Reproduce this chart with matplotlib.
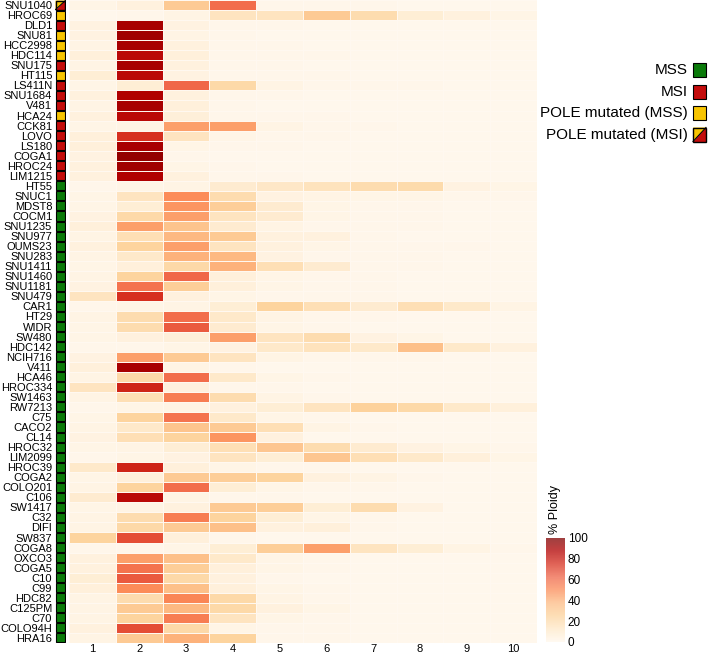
import numpy as np
import matplotlib
matplotlib.use("Agg")
from matplotlib import pyplot as plt
from matplotlib.patches import Rectangle, Polygon

plt.rcParams['font.family'] = ['Liberation Sans', 'DejaVu Sans']

cell_lines = [
    'SNU1040', 'HROC69', 'DLD1', 'SNU81', 'HCC2998', 'HDC114', 'SNU175',
    'HT115', 'LS411N', 'SNU1684', 'V481', 'HCA24', 'CCK81', 'LOVO', 'LS180',
    'COGA1', 'HROC24', 'LIM1215', 'HT55', 'SNUC1', 'MDST8', 'COCM1',
    'SNU1235', 'SNU977', 'OUMS23', 'SNU283', 'SNU1411', 'SNU1460',
    'SNU1181', 'SNU479', 'CAR1', 'HT29', 'WIDR', 'SW480', 'HDC142',
    'NCIH716', 'V411', 'HCA46', 'HROC334', 'SW1463', 'RW7213', 'C75',
    'CACO2', 'CL14', 'HROC32', 'LIM2099', 'HROC39', 'COGA2', 'COLO201',
    'C106', 'SW1417', 'C32', 'DIFI', 'SW837', 'COGA8', 'OXCO3', 'COGA5',
    'C10', 'C99', 'HDC82', 'C125PM', 'C70', 'COLO94H', 'HRA16',
]

# MSS, MSI, POLE_MSS, POLE_MSI
status = (['POLE_MSI', 'POLE_MSS', 'MSI', 'POLE_MSS', 'POLE_MSS', 'POLE_MSS',
           'MSI', 'POLE_MSS', 'MSI', 'MSI', 'MSI', 'POLE_MSS', 'MSI', 'MSI',
           'MSI', 'MSI', 'MSI', 'MSI'] + ['MSS'] * 46)

ploidy = [1, 2, 3, 4, 5, 6, 7, 8, 9, 10]

# % of cells per ploidy level (columns 1..10)
pct_ploidy = [
    [2, 5, 30, 60, 1, 1, 1, 0, 0, 0],
    [0, 1, 3, 15, 15, 30, 20, 8, 5, 2],
    [4, 90, 4, 1, 1, 0, 0, 0, 0, 0],
    [4, 92, 3, 1, 0, 0, 0, 0, 0, 0],
    [3, 90, 5, 1, 1, 0, 0, 0, 0, 0],
    [6, 85, 6, 1, 1, 1, 0, 0, 0, 0],
    [3, 90, 5, 1, 1, 0, 0, 0, 0, 0],
    [8, 85, 4, 1, 1, 1, 0, 0, 0, 0],
    [2, 8, 62, 22, 3, 1, 1, 1, 0, 0],
    [5, 88, 5, 1, 1, 0, 0, 0, 0, 0],
    [3, 90, 6, 1, 0, 0, 0, 0, 0, 0],
    [5, 85, 7, 1, 1, 1, 0, 0, 0, 0],
    [2, 3, 45, 45, 3, 1, 1, 0, 0, 0],
    [6, 75, 15, 2, 1, 1, 0, 0, 0, 0],
    [6, 90, 2, 1, 1, 0, 0, 0, 0, 0],
    [4, 95, 1, 0, 0, 0, 0, 0, 0, 0],
    [5, 92, 2, 1, 0, 0, 0, 0, 0, 0],
    [5, 88, 5, 1, 1, 0, 0, 0, 0, 0],
    [1, 2, 3, 10, 13, 16, 20, 21, 4, 2],
    [2, 15, 50, 20, 4, 3, 2, 2, 1, 1],
    [2, 8, 48, 28, 10, 2, 1, 1, 0, 0],
    [4, 22, 45, 15, 10, 2, 1, 1, 0, 0],
    [6, 45, 33, 10, 3, 1, 1, 1, 0, 0],
    [3, 18, 38, 30, 5, 5, 1, 0, 0, 0],
    [5, 25, 45, 15, 5, 2, 1, 1, 1, 0],
    [3, 12, 40, 38, 4, 1, 1, 1, 0, 0],
    [2, 6, 22, 40, 18, 10, 1, 1, 0, 0],
    [3, 25, 62, 6, 2, 1, 1, 0, 0, 0],
    [4, 58, 28, 6, 2, 1, 1, 0, 0, 0],
    [15, 75, 5, 2, 1, 1, 1, 0, 0, 0],
    [1, 2, 3, 8, 25, 18, 10, 18, 12, 3],
    [3, 20, 60, 12, 3, 1, 1, 0, 0, 0],
    [2, 20, 65, 10, 2, 1, 0, 0, 0, 0],
    [2, 5, 7, 45, 15, 20, 4, 2, 0, 0],
    [1, 1, 2, 4, 12, 16, 12, 35, 12, 5],
    [4, 45, 30, 15, 3, 1, 1, 1, 0, 0],
    [6, 90, 3, 1, 0, 0, 0, 0, 0, 0],
    [3, 22, 60, 12, 2, 1, 0, 0, 0, 0],
    [15, 78, 5, 1, 1, 0, 0, 0, 0, 0],
    [3, 18, 55, 20, 3, 1, 0, 0, 0, 0],
    [1, 2, 3, 5, 8, 15, 26, 22, 12, 6],
    [2, 25, 58, 12, 2, 1, 0, 0, 0, 0],
    [3, 12, 33, 30, 18, 3, 1, 0, 0, 0],
    [4, 18, 25, 48, 5, 0, 0, 0, 0, 0],
    [2, 3, 8, 18, 32, 20, 10, 4, 2, 1],
    [1, 2, 4, 15, 8, 32, 18, 12, 6, 2],
    [12, 78, 6, 2, 1, 1, 0, 0, 0, 0],
    [2, 6, 30, 28, 25, 5, 3, 1, 0, 0],
    [3, 25, 60, 8, 2, 1, 1, 0, 0, 0],
    [10, 85, 3, 1, 1, 0, 0, 0, 0, 0],
    [2, 3, 5, 30, 28, 8, 20, 4, 0, 0],
    [3, 20, 55, 25, 8, 2, 1, 0, 0, 0],
    [3, 22, 30, 35, 5, 6, 1, 0, 0, 0],
    [25, 68, 6, 1, 0, 0, 0, 0, 0, 0],
    [1, 1, 2, 8, 28, 45, 15, 8, 3, 1],
    [5, 45, 35, 12, 2, 1, 0, 0, 0, 0],
    [5, 58, 28, 6, 2, 1, 0, 0, 0, 0],
    [8, 65, 22, 5, 1, 0, 0, 0, 0, 0],
    [6, 50, 35, 6, 2, 1, 0, 0, 0, 0],
    [3, 20, 52, 22, 3, 1, 0, 0, 0, 0],
    [3, 30, 38, 22, 5, 2, 0, 0, 0, 0],
    [3, 25, 55, 15, 2, 1, 0, 0, 0, 0],
    [5, 68, 22, 2, 1, 1, 0, 0, 0, 0],
    [3, 30, 40, 25, 1, 1, 0, 0, 0, 0],
]

status_colors = {'MSS': '#0a7a0a', 'MSI': '#c40c0c', 'POLE_MSS': '#f7c400'}
legend_labels = ['MSS', 'MSI', 'POLE mutated (MSS)', 'POLE mutated (MSI)']
legend_keys = ['MSS', 'MSI', 'POLE_MSS', 'POLE_MSI']


def draw_status_box(ax, x, y, w, h, key):
    """Square box; POLE (MSI) is split on the diagonal (y axis inverted)."""
    if key == 'POLE_MSI':
        ax.add_patch(Polygon([(x, y), (x + w, y), (x, y + h)],
                             closed=True, facecolor=status_colors['POLE_MSS'],
                             edgecolor='none'))
        ax.add_patch(Polygon([(x + w, y), (x + w, y + h), (x, y + h)],
                             closed=True, facecolor=status_colors['MSI'],
                             edgecolor='none'))
        ax.plot([x, x + w], [y + h, y], color='black', lw=0.8)
        ax.add_patch(Rectangle((x, y), w, h, facecolor='none',
                               edgecolor='black', lw=1.0))
    else:
        ax.add_patch(Rectangle((x, y), w, h, facecolor=status_colors[key],
                               edgecolor='black', lw=0.8))


def main():
    data = np.array(pct_ploidy, dtype=float)
    n = len(cell_lines)

    fig = plt.figure(figsize=(7.09, 6.56), dpi=100)
    bottom = 13 / 656
    height = 643 / 656

    # heatmap
    ax = fig.add_axes([69 / 709, bottom, 468 / 709, height])
    mesh = ax.pcolormesh(np.arange(len(ploidy) + 1), np.arange(n + 1), data,
                         cmap='OrRd', vmin=0, vmax=100,
                         edgecolors='#fff8f0', linewidth=0.4)
    ax.set_xlim(0, len(ploidy))
    ax.set_ylim(n, 0)
    ax.set_xticks(np.arange(len(ploidy)) + 0.5)
    ax.set_xticklabels([str(p) for p in ploidy], fontsize=8)
    ax.set_yticks([])
    ax.tick_params(axis='x', length=0, pad=0.5)
    for s in ax.spines.values():
        s.set_visible(False)

    # status column with cell line names
    sax = fig.add_axes([55 / 709, bottom, 11 / 709, height])
    for i, key in enumerate(status):
        draw_status_box(sax, 0.05, i + 0.05, 0.9, 0.9, key)
    sax.set_xlim(0, 1)
    sax.set_ylim(n, 0)
    sax.set_xticks([])
    sax.set_yticks(np.arange(n) + 0.5)
    sax.set_yticklabels(cell_lines, fontsize=8)
    sax.tick_params(axis='y', length=0, pad=2)
    for s in sax.spines.values():
        s.set_visible(False)

    # status legend (top right), 90 px tall starting 58 px from top
    lax = fig.add_axes([540 / 709, (656 - 148) / 656, 169 / 709, 90 / 656])
    lax.set_xlim(0, 169)
    lax.set_ylim(90, 0)
    lax.axis('off')
    for i, (lab, key) in enumerate(zip(legend_labels, legend_keys)):
        yc = 12 + i * 21.5
        draw_status_box(lax, 153, yc - 7, 13, 14, key)
        lax.text(148, yc, lab, ha='right', va='center', fontsize=11)

    # colorbar
    cax = fig.add_axes([546 / 709, 14 / 656, 19 / 709, 104 / 656])
    cb = fig.colorbar(mesh, cax=cax, ticks=[0, 20, 40, 60, 80, 100])
    cb.solids.set_alpha(0.75)
    cb.outline.set_visible(False)
    cb.ax.tick_params(labelsize=8.5, length=0, pad=2)
    fig.text(555 / 709, 1 - 509 / 656, '% Ploidy', rotation=90,
             ha='center', va='center', fontsize=9)

    fig.savefig('out.png', dpi=100)


if __name__ == "__main__":
    main()
